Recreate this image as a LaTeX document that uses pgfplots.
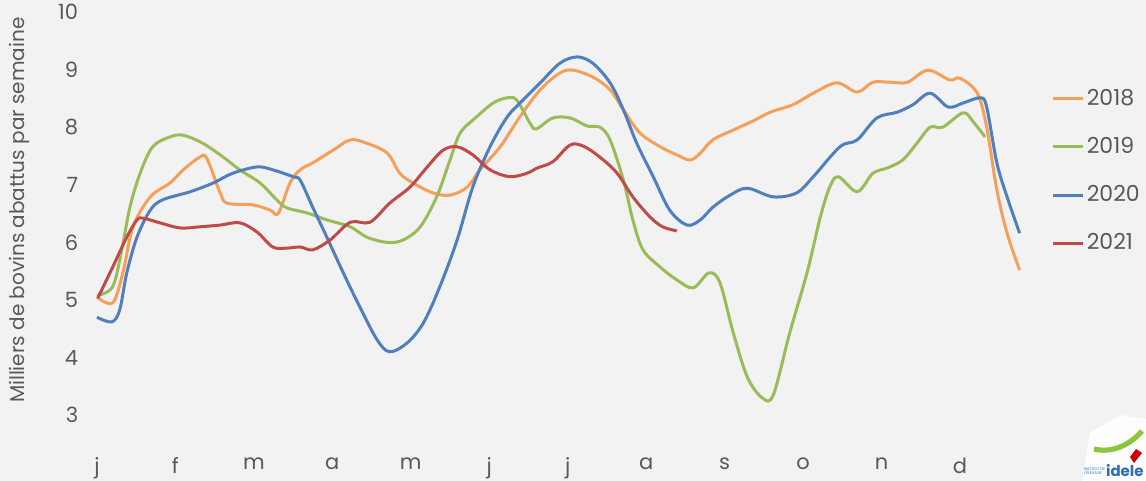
\documentclass[border=0pt]{standalone}
\usepackage{pgfplots}
\pgfplotsset{compat=1.18}
\usepackage{pgfplotstable}
\usepackage{fontspec}
\setmainfont{Poppins}
\definecolor{bg}{HTML}{F2F2F2}
\definecolor{txt}{HTML}{595959}
\definecolor{c18}{HTML}{F5A05A}
\definecolor{c19}{HTML}{9BBB59}
\definecolor{c20}{HTML}{4F7FBD}
\definecolor{c21}{HTML}{BE4B48}
\definecolor{logoblue}{HTML}{2F6DB5}
\definecolor{logogreen}{HTML}{8CC63F}

\pgfplotstableread{
x v
0.00 5.05
0.20 4.95
0.33 5.47
0.46 6.27
0.68 6.79
0.93 7.03
1.10 7.26
1.31 7.48
1.40 7.46
1.57 6.86
1.66 6.68
1.99 6.65
2.21 6.56
2.31 6.50
2.46 7.03
2.59 7.26
2.75 7.38
3.01 7.60
3.23 7.78
3.44 7.72
3.70 7.55
3.86 7.20
4.03 7.03
4.28 6.86
4.50 6.82
4.72 6.96
4.88 7.26
5.14 7.66
5.39 8.18
5.65 8.65
5.90 8.94
6.07 8.99
6.32 8.87
6.54 8.65
6.71 8.30
6.92 7.90
7.18 7.66
7.39 7.52
7.56 7.43
7.69 7.55
7.85 7.78
8.11 7.95
8.38 8.12
8.58 8.26
8.87 8.39
9.13 8.59
9.43 8.77
9.69 8.61
9.89 8.78
10.11 8.78
10.33 8.78
10.59 8.99
10.87 8.82
11.00 8.85
11.22 8.59
11.34 8.00
11.47 6.91
11.60 6.16
11.76 5.52
}\tabA

\pgfplotstableread{
x v
0.00 5.08
0.20 5.23
0.32 5.90
0.42 6.61
0.55 7.20
0.71 7.66
0.93 7.83
1.10 7.86
1.35 7.72
1.61 7.48
1.82 7.26
2.08 7.03
2.29 6.74
2.42 6.60
2.68 6.51
2.93 6.39
3.23 6.27
3.44 6.09
3.70 6.00
3.90 6.04
4.12 6.27
4.33 6.79
4.50 7.43
4.63 7.90
4.84 8.18
5.05 8.42
5.23 8.51
5.35 8.47
5.52 8.07
5.60 7.97
5.81 8.16
6.03 8.16
6.25 8.02
6.41 8.00
6.54 7.78
6.71 7.08
6.83 6.39
6.96 5.87
7.18 5.57
7.39 5.35
7.60 5.21
7.80 5.47
7.94 5.30
8.11 4.43
8.29 3.66
8.48 3.30
8.62 3.35
8.83 4.43
9.05 5.47
9.22 6.44
9.34 6.96
9.45 7.14
9.69 6.88
9.89 7.20
10.07 7.29
10.27 7.43
10.45 7.72
10.62 8.00
10.78 8.00
11.04 8.25
11.17 8.09
11.32 7.83
}\tabB

\pgfplotstableread{
x v
0.00 4.70
0.19 4.62
0.29 4.83
0.38 5.47
0.51 6.09
0.68 6.56
0.84 6.74
1.19 6.88
1.48 7.03
1.73 7.20
2.04 7.31
2.24 7.26
2.50 7.14
2.59 7.08
2.75 6.61
2.93 6.09
3.14 5.47
3.35 4.88
3.57 4.31
3.73 4.10
3.95 4.25
4.16 4.60
4.37 5.23
4.59 6.04
4.79 6.96
5.01 7.66
5.23 8.18
5.43 8.47
5.65 8.77
5.90 9.11
6.12 9.22
6.32 9.11
6.54 8.77
6.71 8.30
6.88 7.72
7.09 7.14
7.30 6.56
7.52 6.30
7.69 6.39
7.85 6.61
8.07 6.82
8.29 6.94
8.62 6.79
8.92 6.86
9.13 7.14
9.47 7.66
9.69 7.78
9.94 8.16
10.20 8.26
10.40 8.39
10.62 8.59
10.85 8.35
11.04 8.42
11.26 8.51
11.34 8.35
11.47 7.38
11.60 6.79
11.76 6.16
}\tabC

\pgfplotstableread{
x v
0.01 5.03
0.20 5.57
0.38 6.09
0.51 6.39
0.59 6.42
0.80 6.34
1.06 6.25
1.31 6.27
1.57 6.30
1.82 6.34
2.04 6.18
2.24 5.92
2.42 5.90
2.59 5.92
2.75 5.87
2.97 6.04
3.23 6.35
3.48 6.35
3.73 6.68
3.99 6.96
4.21 7.31
4.41 7.60
4.59 7.66
4.79 7.52
5.01 7.26
5.26 7.14
5.48 7.20
5.61 7.29
5.81 7.40
6.03 7.69
6.20 7.67
6.41 7.48
6.63 7.20
6.83 6.79
7.05 6.44
7.21 6.27
7.39 6.20
}\tabD

\begin{document}
\begin{tikzpicture}
\path[use as bounding box, fill=bg] (0,0) rectangle (573pt,240.5pt);
\begin{axis}[
  at={(42.6pt,14.2pt)}, anchor=south west,
  scale only axis,
  width=472.7pt, height=220.3pt,
  xmin=-0.15, xmax=11.9,
  ymin=2.35, ymax=10,
  axis line style={draw=none},
  major tick length=0pt,
  xtick={0,...,11},
  xticklabels={j,f,m,a,m,j,j,a,s,o,n,d},
  ytick={3,...,10},
  /pgf/number format/assume math mode=true,
  tick label style={font=\fontsize{10.5}{12}\selectfont, text=txt},
  xticklabel style={yshift=1pt},
  ylabel={Milliers de bovins abattus par semaine},
  ylabel style={font=\fontsize{10}{12}\selectfont, text=txt, at={(axis description cs:-0.069,0.55)}, anchor=center},
  legend style={at={(axis description cs:1.022,0.835)}, anchor=north west, draw=none, fill=none,
    font=\fontsize{11}{13}\selectfont, text=txt, row sep=10.5pt, inner sep=0pt,
    nodes={inner xsep=1pt}},
  legend image code/.code={\draw[#1, line width=1.5pt] (0pt,0pt) -- (15pt,0pt);},
  legend cell align=left,
  every axis plot/.append style={line width=1.5pt, smooth, tension=0.55, line join=round},
]
\addplot[c18] table[x=x,y=v]{\tabA};
\addlegendentry{2018}
\addplot[c19] table[x=x,y=v]{\tabB};
\addlegendentry{2019}
\addplot[c20] table[x=x,y=v]{\tabC};
\addlegendentry{2020}
\addplot[c21] table[x=x,y=v]{\tabD};
\addlegendentry{2021}
\end{axis}
\fill[white, opacity=0.85] (541pt,0pt) -- (573pt,0pt) -- (573pt,31pt) -- (560pt,33pt) -- (545pt,24pt) -- cycle;
\draw[logogreen, line width=2.6pt] (547pt,16pt) .. controls (555pt,14pt) and (564pt,17pt) .. (571pt,25pt);
\fill[red!80!black] (567pt,9pt) -- (571pt,14pt) -- (568pt,16pt) -- (565pt,12pt) -- cycle;
\node[anchor=south east, inner sep=0.5pt, text=logoblue, font=\fontsize{7.5}{8}\selectfont\bfseries] at (572.5pt,1.5pt) {idele};
\node[anchor=south east, inner sep=0.3pt, text=logoblue, font=\fontsize{1.9}{2.2}\selectfont, align=left] at (553pt,2.5pt) {INSTITUT DE\\L'ÉLEVAGE};
\end{tikzpicture}
\end{document}
